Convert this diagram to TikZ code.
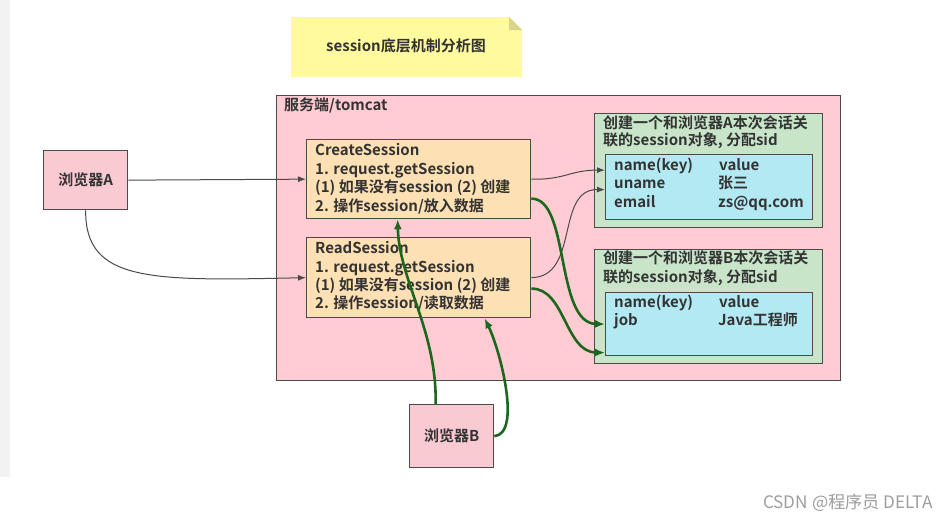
\documentclass[tikz,border=0pt]{standalone}
\usepackage{fontspec}
\setmainfont{Noto Sans CJK SC}[BoldFont=* Bold]
\usetikzlibrary{arrows.meta}
\definecolor{serverpink}{HTML}{FFCCD4}
\definecolor{browserpink}{HTML}{F9CAD2}
\definecolor{peach}{HTML}{FDE0B3}
\definecolor{lightgreen}{HTML}{C9E5C9}
\definecolor{cyanbox}{HTML}{B2E9F2}
\definecolor{notey}{HTML}{FFFA9E}
\definecolor{notefold}{HTML}{D9D48A}
\definecolor{edgegray}{HTML}{4A4A4A}
\definecolor{darkgreen}{HTML}{1D661D}
\definecolor{stripgray}{HTML}{F2F2F2}
\definecolor{txt}{HTML}{333333}
\begin{document}
\begin{tikzpicture}[x=1pt,y=-1pt,
  box/.style={draw=edgegray, line width=1.3pt, anchor=north west, inner sep=0pt},
  ln/.style={font=\bfseries\fontsize{15}{18}\selectfont, text=txt, anchor=base west, inner sep=0pt},
  ctr/.style={font=\bfseries\fontsize{15}{18}\selectfont, text=txt, anchor=center, inner sep=0pt},
  thinarrow/.style={draw=edgegray, line width=1pt, -{Latex[length=8pt,width=6pt]}},
  greenarrow/.style={draw=darkgreen, line width=2.6pt, -{Latex[length=10pt,width=8pt]}}]
\useasboundingbox (0,0) rectangle (950,520);
\fill[white] (0,0) rectangle (950,520);
\fill[stripgray] (0,0) rectangle (10,477);
% title note
\fill[notey] (291,17) -- (509,17) -- (522,30) -- (522,77) -- (291,77) -- cycle;
\fill[notefold] (509,17) -- (522,30) -- (509,30) -- cycle;
\node[ctr] (title) at (406,46) {session底层机制分析图};
% server
\node[box, fill=serverpink, minimum width=564pt, minimum height=285pt] (srv) at (276,95) {};
\node[ln] (srvlbl) at (284,110.5) {服务端/tomcat};
% browsers
\node[box, fill=browserpink, minimum width=84pt, minimum height=59pt] (bA) at (43,150) {};
\node[ctr] (bAt) at (bA.center) {浏览器A};
\node[box, fill=browserpink, minimum width=84pt, minimum height=63pt] (bB) at (409,404) {};
\node[ctr] (bBt) at (bB.center) {浏览器B};
% servlets
\node[box, fill=peach, minimum width=224pt, minimum height=79pt] (cs) at (306,139) {};
\node[ln] (cs1) at (315,155.5) {CreateSession};
\node[ln] (cs2) at (315,174.5) {1. request.getSession};
\node[ln] (cs3) at (315,192.5) {(1) 如果没有session (2) 创建};
\node[ln] (cs4) at (315,211.5) {2. 操作session/放入数据};
\node[box, fill=peach, minimum width=224pt, minimum height=80pt] (rs) at (306,237) {};
\node[ln] (rs1) at (315,253.5) {ReadSession};
\node[ln] (rs2) at (315,272.5) {1. request.getSession};
\node[ln] (rs3) at (315,290.5) {(1) 如果没有session (2) 创建};
\node[ln] (rs4) at (315,308.5) {2. 操作session/读取数据};
% session A
\node[box, fill=lightgreen, minimum width=228pt, minimum height=114pt] (gA) at (594,113) {};
\node[ln] (gA1) at (603,128.5) {创建一个和浏览器A本次会话关};
\node[ln] (gA2) at (603,145.5) {联的session对象, 分配sid};
\node[box, fill=cyanbox, minimum width=207pt, minimum height=65pt] (cyA) at (605,154) {};
\node[ln] (a11) at (614,170.5) {name(key)};
\node[ln] (a12) at (719,170.5) {value};
\node[ln] (a21) at (614,188.5) {uname};
\node[ln] (a22) at (718,188.5) {张三};
\node[ln] (a31) at (614,207.5) {email};
\node[ln] (a32) at (718,207.5) {zs@qq.com};
% session B
\node[box, fill=lightgreen, minimum width=228pt, minimum height=114pt] (gB) at (594,249) {};
\node[ln] (gB1) at (603,263.5) {创建一个和浏览器B本次会话关};
\node[ln] (gB2) at (603,282.5) {联的session对象, 分配sid};
\node[box, fill=cyanbox, minimum width=207pt, minimum height=63pt] (cyB) at (605,292) {};
\node[ln] (b11) at (614,307.5) {name(key)};
\node[ln] (b12) at (719,307.5) {value};
\node[ln] (b21) at (614,325.5) {job};
\node[ln] (b22) at (718,325.5) {Java工程师};
% connectors
\draw[thinarrow] (bA.east) -- (cs.west);
\draw[thinarrow] (bA.south) .. controls (85,282) and (150,281) .. (rs.west);
\draw[thinarrow] (cs.east) .. controls (565,180) and (570,170) .. ([yshift=17pt]cyA.west);
\draw[thinarrow] (rs.east) .. controls (580,277) and (555,189) .. ([yshift=-2.5pt]cyA.west);
\draw[greenarrow] ([yshift=-19.5pt]cs.east) .. controls (570,198) and (555,323) .. (cyB.west);
\draw[greenarrow] ([yshift=-11pt]rs.east) .. controls (565,288) and (565,352) .. ([yshift=-28.5pt]cyB.west);
\draw[greenarrow] ([xshift=-16pt]bB.north) .. controls (437,330) and (399,280) .. ([xshift=-21pt]cs.south);
\draw[greenarrow] (bB.east) .. controls (522,434) and (500,350) .. ([xshift=66pt]rs.south);
% watermark
\node[font=\fontsize{17.2}{19}\selectfont, text=black!38, anchor=base east, inner sep=0pt] (wm) at (933,508) {CSDN @程序员 DELTA};
\end{tikzpicture}
\end{document}
